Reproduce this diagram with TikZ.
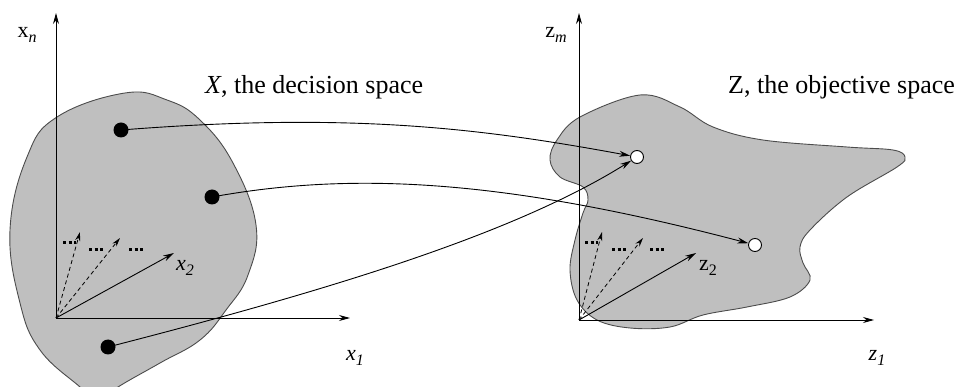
\documentclass[tikz,border=0pt]{standalone}
\usepackage{fontspec}
\setmainfont{Liberation Serif}
\usetikzlibrary{arrows.meta}
\newcommand\lsub[2]{#1\raisebox{-0.45ex}{\fontsize{16}{16}\selectfont #2}}
\begin{document}
\begin{tikzpicture}[x=1pt,y=-1pt,
  blob/.style={fill=black!25, draw=black!70, line width=0.9pt},
  axis/.style={line width=0.9pt, -{Stealth[length=11pt,width=6pt]}},
  conn/.style={line width=0.9pt, -{Stealth[length=11pt,width=6pt]}},
  dasharrow/.style={line width=0.8pt, dash pattern=on 4pt off 3pt, -{Stealth[length=9pt,width=5pt]}},
  dotrow/.style={line width=3pt, dash pattern=on 3pt off 2.5pt},
  blackdot/.style={circle, fill=black, inner sep=0pt, minimum size=15pt},
  whitedot/.style={circle, fill=white, draw=black, line width=0.9pt, inner sep=0pt, minimum size=13pt},
  lbl/.style={font=\fontsize{22}{26}\selectfont, inner sep=0pt},
  title/.style={font=\fontsize{26}{30}\selectfont, inner sep=0pt, anchor=west}
]
\useasboundingbox (0,0) rectangle (956,387);
% decision space blob
\begin{scope}
\clip (0,0) rectangle (956,387);
\draw[blob] plot[smooth cycle, tension=0.7] coordinates {(125,93) (167,100) (200,120) (233,163) (256,225) (248,275) (226,310) (200,340) (160,363) (118,387) (98,402) (80,387) (40,350) (20,303) (10,230) (27,157) (57,117)};
\end{scope}
% objective space blob
\draw[blob] plot[smooth cycle, tension=0.6] coordinates {(640,95) (680,107) (713,127) (763,140) (847,147) (893,150) (905,157) (897,167) (847,197) (810,230) (800,247) (803,263) (810,280) (790,297) (747,307) (703,315) (670,327) (630,328) (597,320) (577,300) (570,270) (575,240) (583,213) (588,200) (583,187) (560,177) (550,160) (557,140) (580,117)};

% left axes
\coordinate (xo) at (56,318);
\coordinate (xtop) at (56,13);
\coordinate (xright) at (350,318);
\draw[axis] (xo) -- (xtop);
\draw[axis] (xo) -- (xright);
\coordinate (xv2) at (174,253);
\coordinate (xd1) at (80,232);
\coordinate (xd2) at (120,238);
\draw[axis] (xo) -- (xv2);
\draw[dasharrow] (xo) -- (xd1);
\draw[dasharrow] (xo) -- (xd2);
\draw[dotrow] (63,243) -- (76,243);
\draw[dotrow] (89,250) -- (104,250);
\draw[dotrow] (129,250) -- (144,250);

% right axes
\coordinate (zo) at (579,320);
\coordinate (ztop) at (579,13);
\coordinate (zright) at (874,320);
\draw[axis] (zo) -- (ztop);
\draw[axis] (zo) -- (zright);
\coordinate (zv2) at (696,253);
\coordinate (zd1) at (602,232);
\coordinate (zd2) at (643,238);
\draw[axis] (zo) -- (zv2);
\draw[dasharrow] (zo) -- (zd1);
\draw[dasharrow] (zo) -- (zd2);
\draw[dotrow] (585,243) -- (598,243);
\draw[dotrow] (612,250) -- (627,250);
\draw[dotrow] (650,250) -- (665,250);

% points
\node[blackdot] (p1) at (121,130) {};
\node[blackdot] (p2) at (212,197) {};
\node[blackdot] (p3) at (108,347) {};
\node[whitedot] (q1) at (637,157) {};
\node[whitedot] (q2) at (755,245) {};

% mappings
\draw[conn] (p1.center) .. controls (350,112) and (480,128) .. (q1);
\draw[conn] (p2.center) .. controls (350,172) and (500,178) .. (q2);
\draw[conn] (p3.center) .. controls (350,285) and (520,230) .. (q1);

% labels
\node[lbl] (lxn) at (27,35) {\lsub{x}{\itshape n}};
\node[lbl] (lx1) at (355,358) {\lsub{\itshape x}{\itshape 1}};
\node[lbl] (lx2) at (185,268) {\lsub{\itshape x}{2}};
\node[lbl] (lzm) at (556,35) {\lsub{z}{\itshape m}};
\node[lbl] (lz1) at (877,358) {\lsub{\itshape z}{\itshape 1}};
\node[lbl] (lz2) at (708,268) {\lsub{z}{2}};
\node[title] (tx) at (205,87) {\textit{X}, the decision space};
\node[title] (tz) at (728,87) {Z, the objective space};
\end{tikzpicture}
\end{document}
